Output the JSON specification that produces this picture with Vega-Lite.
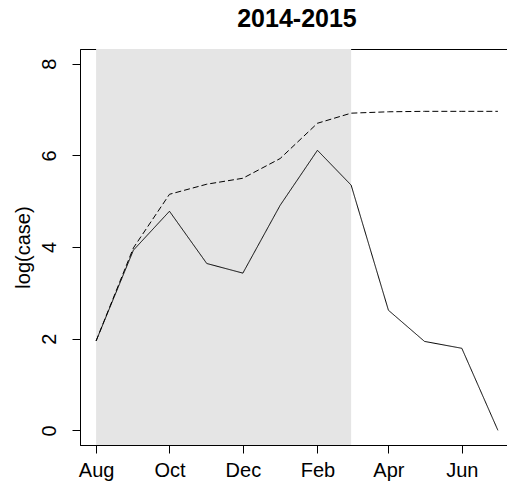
{
  "$schema": "https://vega.github.io/schema/vega-lite/v6.json",
  "autosize": "none",
  "padding": {"left": 80, "top": 49, "right": 0, "bottom": 38},
  "width": 434,
  "height": 396,
  "background": "white",
  "config": {
    "font": "Liberation Sans",
    "view": {"stroke": "black", "strokeWidth": 1},
    "axis": {"grid": false, "labelFont": "Liberation Sans", "titleFont": "Liberation Sans", "labelColor": "black", "titleColor": "black", "tickColor": "black", "domainColor": "black", "labelFontSize": 20, "titleFontSize": 20, "titleFontWeight": "normal", "tickSize": 8, "tickWidth": 1, "domainWidth": 1}
  },
  "title": {"text": "2014-2015", "font": "Liberation Sans", "fontSize": 25, "fontWeight": "bold", "color": "black", "anchor": "middle", "baseline": "alphabetic", "offset": 22, "dy": 25},
  "datasets": {
    "shade": [{"start": "2014-08-01", "end": "2015-03-01"}],
    "series": [
      {"date": "2014-08-01", "series": "monthly", "value": 1.95},
      {"date": "2014-09-01", "series": "monthly", "value": 3.93},
      {"date": "2014-10-01", "series": "monthly", "value": 4.78},
      {"date": "2014-11-01", "series": "monthly", "value": 3.64},
      {"date": "2014-12-01", "series": "monthly", "value": 3.43},
      {"date": "2015-01-01", "series": "monthly", "value": 4.91},
      {"date": "2015-02-01", "series": "monthly", "value": 6.11},
      {"date": "2015-03-01", "series": "monthly", "value": 5.35},
      {"date": "2015-04-01", "series": "monthly", "value": 2.62},
      {"date": "2015-05-01", "series": "monthly", "value": 1.94},
      {"date": "2015-06-01", "series": "monthly", "value": 1.79},
      {"date": "2015-07-01", "series": "monthly", "value": 0},
      {"date": "2014-08-01", "series": "cumulative", "value": 1.95},
      {"date": "2014-09-01", "series": "cumulative", "value": 3.98},
      {"date": "2014-10-01", "series": "cumulative", "value": 5.15},
      {"date": "2014-11-01", "series": "cumulative", "value": 5.37},
      {"date": "2014-12-01", "series": "cumulative", "value": 5.5},
      {"date": "2015-01-01", "series": "cumulative", "value": 5.93},
      {"date": "2015-02-01", "series": "cumulative", "value": 6.7},
      {"date": "2015-03-01", "series": "cumulative", "value": 6.92},
      {"date": "2015-04-01", "series": "cumulative", "value": 6.95},
      {"date": "2015-05-01", "series": "cumulative", "value": 6.96},
      {"date": "2015-06-01", "series": "cumulative", "value": 6.96},
      {"date": "2015-07-01", "series": "cumulative", "value": 6.96}
    ]
  },
  "layer": [
    {
      "data": {"name": "shade"},
      "mark": {"type": "rect", "fill": "#E5E5E5"},
      "encoding": {
        "x": {"field": "start", "type": "temporal"},
        "x2": {"field": "end"}
      }
    },
    {
      "data": {"name": "series"},
      "mark": {"type": "line", "color": "black", "strokeWidth": 1},
      "encoding": {
        "x": {
          "field": "date", "type": "temporal",
          "scale": {"type": "utc", "domain": [{"year": 2014, "month": 7, "date": 18, "hours": 15, "utc": true}, {"year": 2015, "month": 7, "date": 14, "hours": 9, "utc": true}]},
          "axis": {
            "title": null,
            "domain": true,
            "values": [
              {"year": 2014, "month": 8, "date": 1, "utc": true},
              {"year": 2014, "month": 9, "date": 1, "utc": true},
              {"year": 2014, "month": 10, "date": 1, "utc": true},
              {"year": 2014, "month": 11, "date": 1, "utc": true},
              {"year": 2014, "month": 12, "date": 1, "utc": true},
              {"year": 2015, "month": 1, "date": 1, "utc": true},
              {"year": 2015, "month": 2, "date": 1, "utc": true},
              {"year": 2015, "month": 3, "date": 1, "utc": true},
              {"year": 2015, "month": 4, "date": 1, "utc": true},
              {"year": 2015, "month": 5, "date": 1, "utc": true},
              {"year": 2015, "month": 6, "date": 1, "utc": true},
              {"year": 2015, "month": 7, "date": 1, "utc": true}
            ],
            "labelExpr": "utcmonth(datum.value) % 2 == 1 ? utcFormat(datum.value, '%b') : ''",
            "labelBaseline": "top",
            "labelAlign": "center",
            "labelPadding": 7,
            "labelOverlap": false,
            "labelFlush": false
          }
        },
        "y": {
          "field": "value", "type": "quantitative",
          "scale": {"domain": [-0.32, 8.32], "nice": false, "zero": false},
          "axis": {
            "title": "log(case)",
            "values": [0, 2, 4, 6, 8],
            "domain": true,
            "labelAngle": -90,
            "labelAlign": "center",
            "labelBaseline": "alphabetic",
            "labelPadding": 17,
            "titlePadding": 6
          }
        },
        "strokeDash": {
          "field": "series", "type": "nominal",
          "scale": {"domain": ["monthly", "cumulative"], "range": [[1, 0], [6, 3]]},
          "legend": null
        }
      }
    }
  ]
}
